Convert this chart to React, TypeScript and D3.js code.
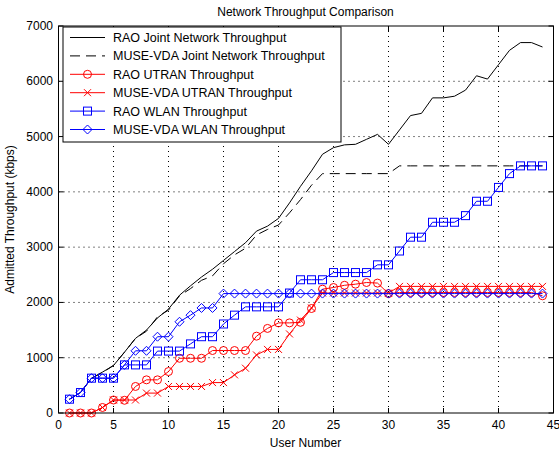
import React from 'react';
import * as d3 from 'd3';

// user numbers 1..44
const users = d3.range(1, 45);

const raoJoint = [250, 370, 630, 740, 860, 1100, 1350, 1500, 1720, 1880, 2130, 2300, 2460, 2600, 2760, 2920, 3080, 3290, 3380, 3520, 3800, 4100, 4380, 4680, 4800, 4850, 4860, 4950, 5040, 4860, 5120, 5380, 5420, 5700, 5700, 5730, 5840, 6100, 6040, 6300, 6560, 6700, 6700, 6620];
const museJoint = [250, 370, 630, 730, 860, 1100, 1350, 1480, 1740, 1860, 2120, 2250, 2400, 2480, 2700, 2860, 2980, 3220, 3320, 3400, 3620, 3860, 4120, 4330, 4330, 4330, 4330, 4330, 4330, 4330, 4470, 4470, 4470, 4470, 4470, 4470, 4470, 4470, 4470, 4470, 4470, 4470, 4470, 4470];
const raoUtran = [0, 0, 0, 100, 235, 230, 480, 600, 600, 750, 990, 990, 990, 1130, 1130, 1130, 1130, 1390, 1530, 1630, 1630, 1640, 1890, 2240, 2270, 2310, 2330, 2360, 2350, 2160, 2180, 2180, 2180, 2180, 2180, 2180, 2180, 2180, 2180, 2180, 2180, 2180, 2180, 2120];
const museUtran = [0, 0, 0, 100, 235, 235, 235, 360, 360, 480, 480, 480, 480, 550, 550, 690, 810, 1050, 1150, 1150, 1430, 1680, 1900, 2170, 2170, 2170, 2170, 2170, 2170, 2170, 2290, 2290, 2290, 2290, 2290, 2290, 2290, 2290, 2290, 2290, 2290, 2290, 2290, 2290];
const raoWlan = [250, 370, 630, 630, 630, 870, 870, 870, 1120, 1120, 1120, 1250, 1380, 1380, 1610, 1770, 1920, 1920, 1920, 1920, 2170, 2410, 2410, 2410, 2540, 2540, 2540, 2540, 2680, 2680, 2930, 3180, 3180, 3450, 3450, 3450, 3570, 3830, 3830, 4080, 4330, 4470, 4470, 4470];
const museWlan = [250, 370, 630, 630, 630, 870, 1125, 1125, 1380, 1380, 1650, 1770, 1900, 1900, 2160, 2160, 2160, 2160, 2160, 2160, 2160, 2160, 2160, 2160, 2160, 2160, 2160, 2160, 2160, 2160, 2160, 2160, 2160, 2160, 2160, 2160, 2160, 2160, 2160, 2160, 2160, 2160, 2160, 2160];

const xTicks = [0, 5, 10, 15, 20, 25, 30, 35, 40, 45];
const yTicks = [0, 1000, 2000, 3000, 4000, 5000, 6000, 7000];

type Marker = 'none' | 'circle' | 'x' | 'square' | 'diamond';

const series = [
  { name: 'RAO Joint Network Throughput', values: raoJoint, color: '#000', dash: '', marker: 'none' as Marker },
  { name: 'MUSE-VDA Joint Network Throughput', values: museJoint, color: '#000', dash: '10,6', marker: 'none' as Marker },
  { name: 'RAO UTRAN Throughput', values: raoUtran, color: '#ff0000', dash: '', marker: 'circle' as Marker },
  { name: 'MUSE-VDA UTRAN Throughput', values: museUtran, color: '#ff0000', dash: '', marker: 'x' as Marker },
  { name: 'RAO WLAN Throughput', values: raoWlan, color: '#0000ff', dash: '', marker: 'square' as Marker },
  { name: 'MUSE-VDA WLAN Throughput', values: museWlan, color: '#0000ff', dash: '', marker: 'diamond' as Marker },
];

const W = 559;
const H = 458;
const left = 58.5, right = 553.5, top = 26, bottom = 413;
const font = '"Liberation Sans", Arial, sans-serif';

const drawMarker = (m: Marker, x: number, y: number, color: string, key: string) => {
  const p = { fill: 'none', stroke: color, strokeWidth: 1 };
  if (m === 'circle') return <circle key={key} cx={x} cy={y} r={4} {...p} />;
  if (m === 'square') return <rect key={key} x={x - 4} y={y - 4} width={8} height={8} {...p} />;
  if (m === 'diamond') return <path key={key} d={`M${x},${y - 4.5}L${x + 4.5},${y}L${x},${y + 4.5}L${x - 4.5},${y}Z`} {...p} />;
  if (m === 'x') return <path key={key} d={`M${x - 3.5},${y - 3.5}L${x + 3.5},${y + 3.5}M${x - 3.5},${y + 3.5}L${x + 3.5},${y - 3.5}`} {...p} />;
  return null;
};

export default function App() {
  const x = d3.scaleLinear().domain([0, 45]).range([left, right]);
  const y = d3.scaleLinear().domain([0, 7000]).range([bottom, top]);
  const line = d3.line<number>().x((_, i) => x(users[i])).y(d => y(d));

  const legX = 63, legY = 27, legW = 278, legH = 115, rowH = 18.4;

  return (
    <svg width={W} height={H} style={{ position: 'absolute', left: 0, top: 0, background: '#fff' }} fontFamily={font}>
      <rect x={0} y={0} width={W} height={H} fill="#fff" />
      {/* grid */}
      {xTicks.slice(1, -1).map(t => (
        <line key={'gx' + t} x1={x(t)} x2={x(t)} y1={top} y2={bottom} stroke="#000" strokeWidth={1} strokeDasharray="1,4" />
      ))}
      {yTicks.slice(1, -1).map(t => (
        <line key={'gy' + t} x1={left} x2={right} y1={y(t)} y2={y(t)} stroke="#000" strokeWidth={1} strokeDasharray="1,4" />
      ))}
      {/* ticks */}
      {xTicks.map(t => (
        <g key={'tx' + t}>
          <line x1={x(t)} x2={x(t)} y1={bottom} y2={bottom - 5} stroke="#000" />
          <line x1={x(t)} x2={x(t)} y1={top} y2={top + 5} stroke="#000" />
          <text x={x(t)} y={429} textAnchor="middle" fontSize={12}>{t}</text>
        </g>
      ))}
      {yTicks.map(t => (
        <g key={'ty' + t}>
          <line x1={left} x2={left + 5} y1={y(t)} y2={y(t)} stroke="#000" />
          <line x1={right} x2={right - 5} y1={y(t)} y2={y(t)} stroke="#000" />
          <text x={53} y={y(t) + 4} textAnchor="end" fontSize={12}>{t}</text>
        </g>
      ))}
      {/* series */}
      {series.map(s => (
        <g key={s.name}>
          <path d={line(s.values) || ''} fill="none" stroke={s.color} strokeWidth={1} strokeDasharray={s.dash || undefined} />
          {s.values.map((v, i) => drawMarker(s.marker, x(users[i]), y(v), s.color, s.name + i))}
        </g>
      ))}
      {/* box */}
      <rect x={left} y={top} width={right - left} height={bottom - top} fill="none" stroke="#000" strokeWidth={1} />
      {/* legend */}
      <rect x={legX} y={legY} width={legW} height={legH} fill="#fff" stroke="#000" strokeWidth={1} />
      {series.map((s, i) => {
        const cy = legY + 10.5 + i * rowH;
        return (
          <g key={'leg' + i}>
            <line x1={70} x2={105} y1={cy} y2={cy} stroke={s.color} strokeDasharray={s.dash || undefined} />
            {drawMarker(s.marker, 87.5, cy, s.color, 'lm' + i)}
            <text x={113} y={cy + 4.5} fontSize={12.5}>{s.name}</text>
          </g>
        );
      })}
      {/* labels */}
      <text x={W / 2 + 26} y={16} textAnchor="middle" fontSize={12}>Network Throughput Comparison</text>
      <text x={W / 2 + 26} y={447} textAnchor="middle" fontSize={12}>User Number</text>
      <text transform={`translate(14,${(top + bottom) / 2}) rotate(-90)`} textAnchor="middle" fontSize={12}>Admitted Throughput (kbps)</text>
    </svg>
  );
}
